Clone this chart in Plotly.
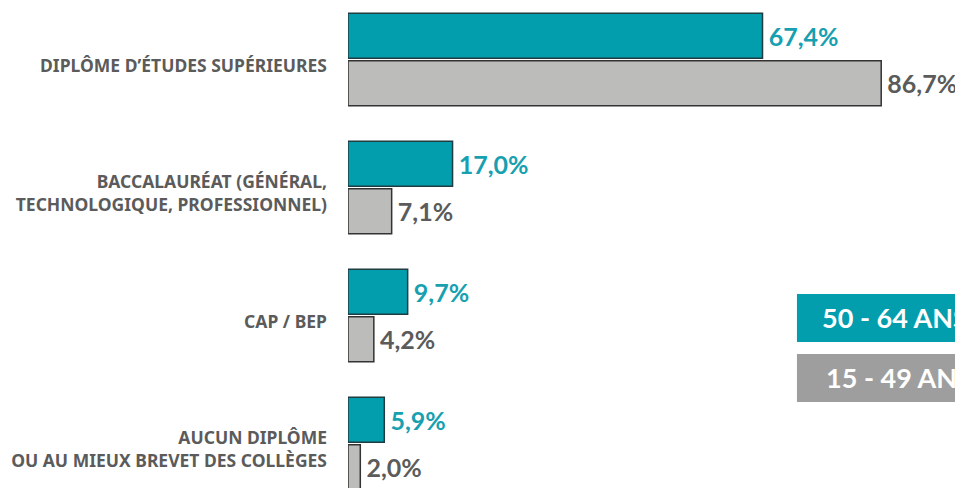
import plotly.graph_objects as go

categories = [
    "DIPLÔME D’ÉTUDES SUPÉRIEURES",
    "BACCALAURÉAT (GÉNÉRAL,<br>TECHNOLOGIQUE, PROFESSIONNEL)",
    "CAP / BEP",
    "AUCUN DIPLÔME<br>OU AU MIEUX BREVET DES COLLÈGES",
]
series_names = ["50 - 64 ANS", "15 - 49 ANS"]
values_50_64 = [67.4, 17.0, 9.7, 5.9]
values_15_49 = [86.7, 7.1, 4.2, 2.0]

TEAL = "#029eae"
GREY = "#bcbdbb"
TEXT_GREY = "#5b5b5b"

fig = go.Figure()
fig.add_trace(go.Bar(
    y=categories, x=values_50_64, orientation="h", name=series_names[0],
    marker=dict(color=TEAL, line=dict(color="#1f3d40", width=1.5)),
    texttemplate="\u2009%{x:.1f}%", textposition="outside", cliponaxis=False,
    textfont=dict(family="Lato", size=25, color="#17a0b0", weight="bold"),
))
fig.add_trace(go.Bar(
    y=categories, x=values_15_49, orientation="h", name=series_names[1],
    marker=dict(color=GREY, line=dict(color="#333333", width=1.5)),
    texttemplate="\u2009%{x:.1f}%", textposition="outside", cliponaxis=False,
    textfont=dict(family="Lato", size=25, color=TEXT_GREY, weight="bold"),
))

fig.update_layout(
    width=963, height=480,
    margin=dict(l=340, r=8, t=0, b=0),
    paper_bgcolor="white", plot_bgcolor="white",
    separators=", ",
    barmode="group", bargap=0.258, bargroupgap=0.053,
    showlegend=False,
    font=dict(family="Lato"),
)
fig.update_xaxes(range=[0, 100], visible=False, showgrid=False, zeroline=False)
fig.update_yaxes(
    type="category", categoryorder="array", categoryarray=categories,
    range=[3.348, -0.402], showgrid=False, zeroline=False, showline=False,
    ticks="", ticklabelstandoff=20, ticklabelshift=-6,
    tickfont=dict(family="Noto Sans", size=17.5, color=TEXT_GREY, weight="bold"),
)

# legend boxes
legend_specs = [
    (series_names[0], TEAL, 0.4042, 0.3042, 0.7675),
    (series_names[1], "#9e9e9e", 0.2792, 0.1792, 0.774),
]
for name, col, y1, y0, tx in legend_specs:
    fig.add_shape(type="rect", xref="paper", yref="paper",
                  x0=0.730, x1=1.2, y0=y0, y1=y1,
                  fillcolor=col, line=dict(width=0), layer="above")
    fig.add_annotation(text=f"<b>{name}</b>", xref="paper", yref="paper",
                       x=tx, y=(y0 + y1) / 2, xanchor="left", yanchor="middle",
                       showarrow=False,
                       font=dict(family="Lato", size=27, color="white"))

fig.write_html("out.html")
